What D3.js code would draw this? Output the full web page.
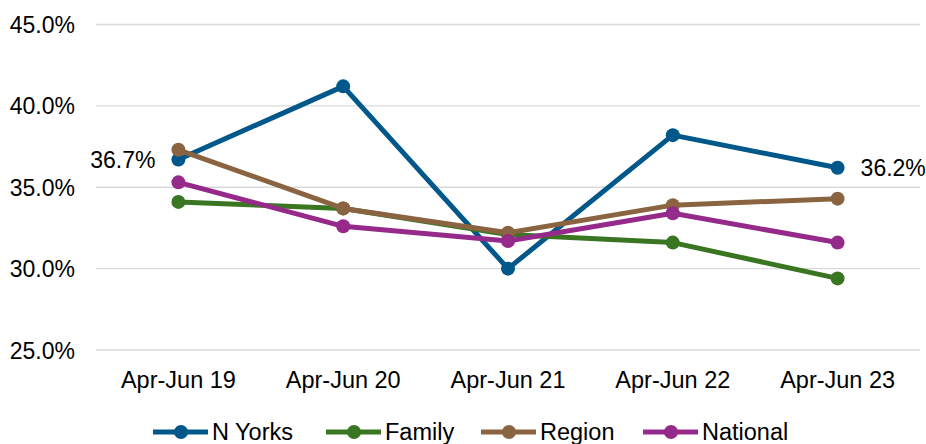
<!DOCTYPE html>
<html><head><meta charset="utf-8">
<script src="https://cdn.jsdelivr.net/npm/d3@7"></script>
<style>body{margin:0;background:#fff;}svg{display:block;font-family:"Liberation Sans",Arial,sans-serif;}</style>
</head><body><svg id="c" width="926" height="444"></svg>
<script>
const categories = ["Apr-Jun 19","Apr-Jun 20","Apr-Jun 21","Apr-Jun 22","Apr-Jun 23"];
const nYorks   = [36.7, 41.2, 30.0, 38.2, 36.2];
const family   = [34.1, 33.7, 32.1, 31.6, 29.4];
const region   = [37.3, 33.7, 32.2, 33.9, 34.3];
const national = [35.3, 32.6, 31.7, 33.4, 31.6];
const yTicks = [25, 30, 35, 40, 45];
const seriesNames = ["N Yorks","Family","Region","National"];
const seriesColors = ["#00578A","#3A7622","#8A6441","#952A8A"];

const series = [nYorks, family, region, national].map((v,i)=>({name:seriesNames[i], color:seriesColors[i], values:v}));
const FS = 23.5;
const FSY = 23;

const svg = d3.select("#c");
const x = d3.scaleBand().domain(categories).range([96, 920]);
const y = d3.scaleLinear().domain([25, 45]).range([350, 24.5]);

// gridlines
svg.append("g").selectAll("line").data(yTicks).join("line")
  .attr("x1", 96).attr("x2", 920)
  .attr("y1", d=>y(d)).attr("y2", d=>y(d))
  .attr("stroke", "#d9d9d9").attr("stroke-width", 1.3);

// y axis labels
const yAxis = d3.axisLeft(y).tickValues(yTicks).tickSize(0).tickPadding(0).tickFormat(d=>d.toFixed(1)+"%");
const ya = svg.append("g").attr("transform","translate(75,0)").call(yAxis);
ya.select(".domain").remove();
ya.selectAll("text").attr("font-size", FSY).attr("fill","#000").attr("font-family","Liberation Sans, Arial, sans-serif").attr("dy","0.35em");

// x axis labels
const xAxis = d3.axisBottom(x).tickSize(0).tickPadding(0);
const xa = svg.append("g").attr("transform","translate(0,380)").call(xAxis);
xa.select(".domain").remove();
xa.selectAll("text").attr("font-size", FS).attr("fill","#000").attr("font-family","Liberation Sans, Arial, sans-serif").attr("dy","0.35em");

const cx = d => x(d) + x.bandwidth()/2;
const line = d3.line().x((d,i)=>cx(categories[i])).y(d=>y(d));

const g = svg.append("g");
series.forEach(s=>{
  g.append("path").attr("d", line(s.values)).attr("fill","none")
    .attr("stroke", s.color).attr("stroke-width", 5).attr("stroke-linejoin","round");
  g.selectAll(null).data(s.values).join("circle")
    .attr("cx",(d,i)=>cx(categories[i])).attr("cy",d=>y(d)).attr("r",7).attr("fill",s.color);
});

// data labels for N Yorks first and last
svg.append("text").attr("x", cx(categories[0]) - 23).attr("y", y(nYorks[0])).attr("dy","0.35em")
  .attr("text-anchor","end").attr("font-size",FSY).text(nYorks[0].toFixed(1)+"%");
svg.append("text").attr("x", cx(categories[4]) + 23).attr("y", y(nYorks[4])).attr("dy","0.35em")
  .attr("text-anchor","start").attr("font-size",FSY).text(nYorks[4].toFixed(1)+"%");

// legend
const legendX = [153, 326, 481, 643];
const lg = svg.append("g");
series.forEach((s,i)=>{
  const lx = legendX[i], ly = 432;
  lg.append("line").attr("x1",lx).attr("x2",lx+55).attr("y1",ly).attr("y2",ly)
    .attr("stroke",s.color).attr("stroke-width",5);
  lg.append("circle").attr("cx",lx+28).attr("cy",ly).attr("r",7).attr("fill",s.color);
  lg.append("text").attr("x",lx+59).attr("y",ly).attr("dy","0.35em").attr("font-size",FS).text(s.name);
});
</script></body></html>
